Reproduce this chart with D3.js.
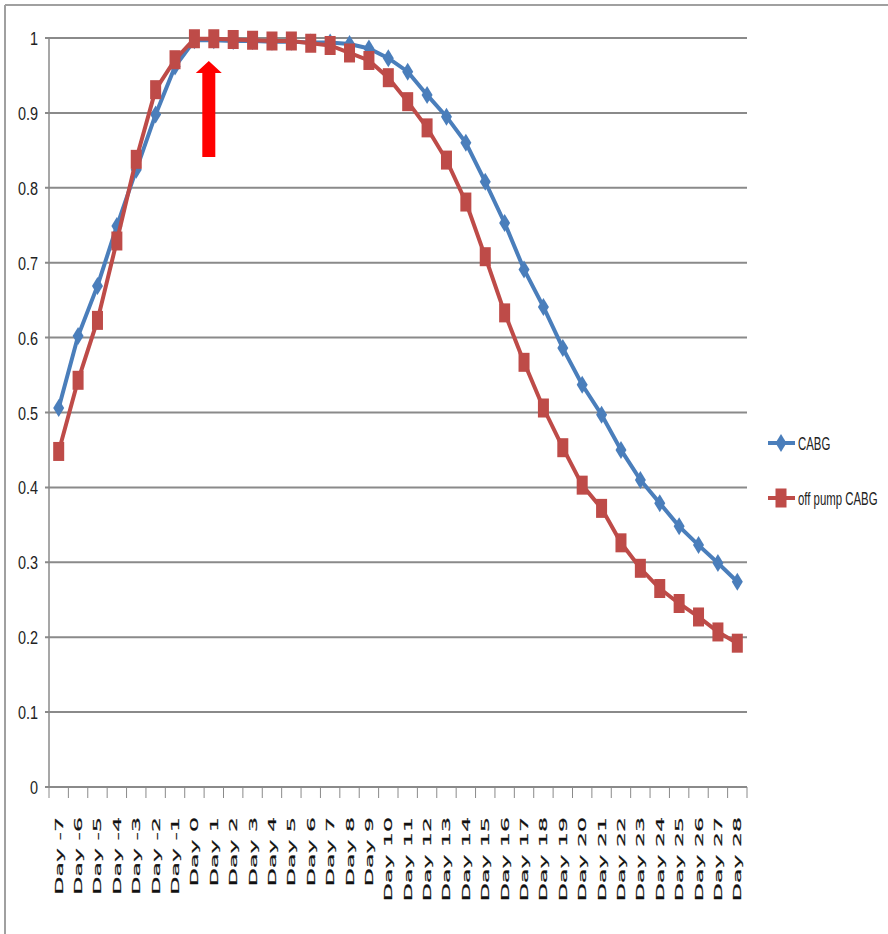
<!DOCTYPE html>
<html>
<head>
<meta charset="utf-8">
<script src="https://cdn.jsdelivr.net/npm/d3@7"></script>
<style>
  body { margin: 0; background: #fff; }
  svg { display: block; }
</style>
</head>
<body>
<svg id="chart" width="888" height="934"></svg>
<script>
// categories
const days = ["Day -7","Day -6","Day -5","Day -4","Day -3","Day -2","Day -1",
  "Day 0","Day 1","Day 2","Day 3","Day 4","Day 5","Day 6","Day 7","Day 8","Day 9",
  "Day 10","Day 11","Day 12","Day 13","Day 14","Day 15","Day 16","Day 17","Day 18",
  "Day 19","Day 20","Day 21","Day 22","Day 23","Day 24","Day 25","Day 26","Day 27","Day 28"]

// series values
const cabg = [0.506,0.602,0.669,0.749,0.824,0.898,0.962,
  0.997,0.997,0.996,0.996,0.995,0.995,0.994,0.994,0.992,0.986,
  0.973,0.955,0.924,0.895,0.860,0.808,0.753,0.691,0.641,
  0.586,0.537,0.497,0.450,0.410,0.379,0.348,0.323,0.299,0.274]
const offPump = [0.448,0.543,0.623,0.729,0.838,0.931,0.971,
  0.999,0.999,0.998,0.997,0.996,0.996,0.993,0.990,0.980,0.970,
  0.947,0.915,0.880,0.837,0.781,0.708,0.633,0.567,0.506,
  0.453,0.403,0.372,0.326,0.292,0.265,0.245,0.227,0.207,0.192]

const yTicks = [0,0.1,0.2,0.3,0.4,0.5,0.6,0.7,0.8,0.9,1]
const seriesNames = ["CABG", "off pump CABG"]

const blue = "#4a7ebb", red = "#be4b48", grid = "#8a8a8a"

const svg = d3.select("#chart")

// outer frame (top and left edges only visible)
svg.append("line").attr("x1", 5).attr("x2", 888).attr("y1", 5).attr("y2", 5)
  .attr("stroke", "#a0a0a0").attr("stroke-width", 2)
svg.append("line").attr("x1", 5).attr("x2", 5).attr("y1", 5).attr("y2", 934)
  .attr("stroke", "#a0a0a0").attr("stroke-width", 2)

const x = d3.scaleBand().domain(days).range([49, 747])
const y = d3.scaleLinear().domain([0, 1]).range([787, 38])
const cx = d => x(d) + x.bandwidth() / 2

// gridlines
svg.append("g").selectAll("line").data(yTicks.slice(1)).enter().append("line")
  .attr("x1", 45).attr("x2", 747)
  .attr("y1", d => y(d)).attr("y2", d => y(d))
  .attr("stroke", grid).attr("stroke-width", 2)

// y axis line
svg.append("line").attr("x1", 49).attr("x2", 49).attr("y1", y(1)).attr("y2", y(0))
  .attr("stroke", grid).attr("stroke-width", 1.5)

// x axis line + ticks between categories
svg.append("line").attr("x1", 45).attr("x2", 747).attr("y1", y(0)).attr("y2", y(0))
  .attr("stroke", grid).attr("stroke-width", 2)
const bounds = days.map(d => x(d)).concat([747])
svg.append("g").selectAll("line").data(bounds).enter().append("line")
  .attr("x1", d => d).attr("x2", d => d)
  .attr("y1", y(0)).attr("y2", y(0) + 11)
  .attr("stroke", grid).attr("stroke-width", 1)

// y tick labels
svg.append("g").selectAll("text").data(yTicks).enter().append("text")
  .attr("transform", d => `translate(38, ${y(d) + 7}) scale(0.76, 1)`)
  .attr("text-anchor", "end")
  .attr("font-family", "Liberation Sans, Arial, sans-serif")
  .attr("font-size", 19)
  .attr("fill", "#222")
  .text(d => d)

// x tick labels, rotated and stretched
svg.append("g").selectAll("text").data(days).enter().append("text")
  .attr("transform", d => `translate(${cx(d) + 4}, 817) rotate(-90) scale(2.15, 1)`)
  .attr("text-anchor", "end")
  .attr("font-family", "DejaVu Sans, Verdana, sans-serif")
  .attr("font-size", 11)
  .attr("fill", "#111")
  .attr("stroke", "#111").attr("stroke-width", 0.2)
  .text(d => d)

const line = d3.line().x((d, i) => cx(days[i])).y(d => y(d))

function diamond(g, px, py) {
  g.append("path")
    .attr("d", `M${px},${py - 9}L${px + 5.5},${py}L${px},${py + 9}L${px - 5.5},${py}Z`)
    .attr("fill", blue)
}
function square(g, px, py) {
  g.append("rect").attr("x", px - 5.5).attr("y", py - 9.5)
    .attr("width", 11).attr("height", 19).attr("fill", red)
}

// CABG series
svg.append("path").datum(cabg).attr("d", line)
  .attr("fill", "none").attr("stroke", blue).attr("stroke-width", 4)
const gb = svg.append("g")
cabg.forEach((v, i) => diamond(gb, cx(days[i]), y(v)))

// off pump series
svg.append("path").datum(offPump).attr("d", line)
  .attr("fill", "none").attr("stroke", red).attr("stroke-width", 4)
const gr = svg.append("g")
offPump.forEach((v, i) => square(gr, cx(days[i]), y(v)))

// legend
const legY = [443, 498]
const lg = svg.append("g")
seriesNames.forEach((name, i) => {
  const col = i === 0 ? blue : red
  lg.append("line").attr("x1", 768).attr("x2", 795)
    .attr("y1", legY[i]).attr("y2", legY[i])
    .attr("stroke", col).attr("stroke-width", 4)
  if (i === 0) diamond(lg, 781, legY[i])
  else square(lg, 781, legY[i])
  lg.append("text")
    .attr("transform", `translate(798, ${legY[i] + 7}) scale(0.6, 1)`)
    .attr("font-family", "Liberation Sans, Arial, sans-serif")
    .attr("font-size", 19)
    .attr("fill", "#222")
    .text(name)
})

// red arrow pointing up at the start of the plateau
const ax = cx("Day 1") - 5
svg.append("path")
  .attr("d", `M${ax},61 L${ax + 13},73 L${ax + 6.5},73 L${ax + 6.5},157 L${ax - 6.5},157 L${ax - 6.5},73 L${ax - 13},73 Z`)
  .attr("fill", "#ff0000")
</script>
</body>
</html>
